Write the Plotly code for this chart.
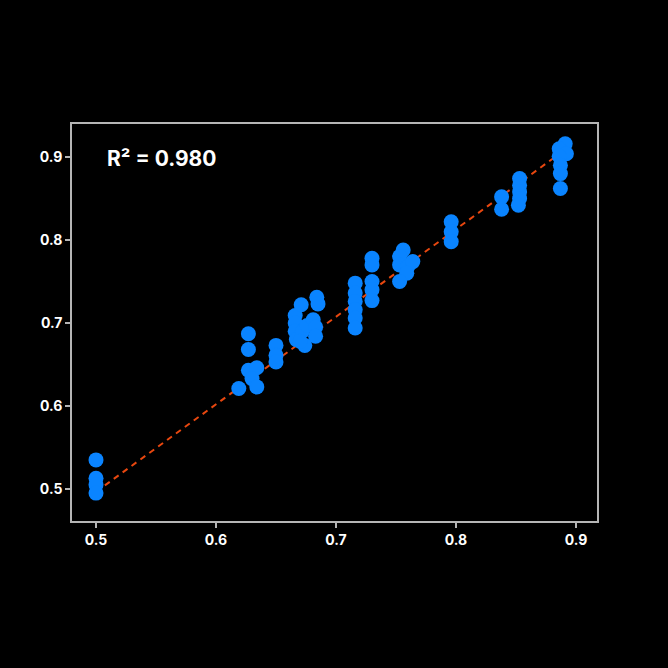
"""Predicted vs actual scatter with least-squares fit line."""

import numpy as np
import plotly.graph_objects as go

# data
x_vals = [
    0.500, 0.500, 0.500, 0.500,
    0.619, 0.627, 0.627, 0.627, 0.634, 0.630, 0.634,
    0.650, 0.650, 0.650,
    0.666, 0.666, 0.666, 0.667, 0.671, 0.674, 0.672, 0.676, 0.681, 0.683, 0.683, 0.684, 0.685, 0.670,
    0.716, 0.716, 0.716, 0.716, 0.716, 0.716, 0.730, 0.730, 0.730, 0.730, 0.730,
    0.756, 0.753, 0.753, 0.760, 0.764, 0.759, 0.753,
    0.796, 0.796, 0.796,
    0.838, 0.838,
    0.853, 0.853, 0.853, 0.853, 0.852,
    0.891, 0.886, 0.892, 0.886, 0.887, 0.887, 0.887,
]
y_vals = [
    0.535, 0.513, 0.505, 0.495,
    0.621, 0.687, 0.668, 0.643, 0.646, 0.633, 0.623,
    0.673, 0.661, 0.653,
    0.709, 0.700, 0.690, 0.680, 0.722, 0.673, 0.690, 0.697, 0.704, 0.695, 0.684, 0.731, 0.723, 0.678,
    0.748, 0.736, 0.726, 0.716, 0.706, 0.694, 0.778, 0.770, 0.750, 0.740, 0.727,
    0.788, 0.780, 0.770, 0.768, 0.774, 0.760, 0.750,
    0.822, 0.810, 0.798,
    0.852, 0.837,
    0.874, 0.866, 0.858, 0.850, 0.842,
    0.916, 0.910, 0.904, 0.901, 0.890, 0.880, 0.862,
]
# fit line as drawn in the reference
fit_slope = 1.055
fit_intercept = -0.031
r2_label = "R² = 0.980"
tick_vals = [0.5, 0.6, 0.7, 0.8, 0.9]
tick_text = ["0.5", "0.6", "0.7", "0.8", "0.9"]

x = np.array(x_vals)
y = np.array(y_vals)
line_x = np.array([x.min(), x.max()])
line_y = fit_slope * line_x + fit_intercept

fig = go.Figure()

# fit line (drawn below the points)
fig.add_trace(
    go.Scatter(
        x=line_x,
        y=line_y,
        mode="lines",
        line=dict(color="#e8470f", width=2, dash="6px,5px"),
        showlegend=False,
        hoverinfo="skip",
    )
)

fig.add_trace(
    go.Scatter(
        x=x,
        y=y,
        mode="markers",
        marker=dict(size=15, color="#0a84ff", line=dict(width=0)),
        showlegend=False,
    )
)

fig.add_annotation(
    x=0.063,
    y=0.912,
    xref="paper",
    yref="paper",
    xanchor="left",
    yanchor="middle",
    text=f"<b>{r2_label}</b>",
    showarrow=False,
    font=dict(family="Inter, Lato, sans-serif", size=21, color="white"),
)

axis_style = dict(
    showgrid=False,
    zeroline=False,
    showline=True,
    mirror=True,
    linecolor="#b5b5b5",
    linewidth=1.5,
    ticks="outside",
    ticklen=5,
    tickwidth=1.5,
    tickcolor="#b5b5b5",
    tickvals=tick_vals,
    ticktext=[f"<b>{t}</b>" for t in tick_text],
    tickfont=dict(family="Inter, Lato, sans-serif", size=14, color="white"),
)

fig.update_xaxes(range=[0.48, 0.9175], **axis_style)
fig.update_yaxes(range=[0.4614, 0.9398], **axis_style)

fig.update_layout(
    width=668,
    height=668,
    margin=dict(l=72, r=71, t=124, b=147),
    paper_bgcolor="black",
    plot_bgcolor="black",
    hovermode="closest",
)

# drop the page margin so the figure fills the window
fig.write_html(
    "out.html",
    config={"displayModeBar": False},
    post_script="document.body.style.margin='0';document.body.style.background='black';",
)
